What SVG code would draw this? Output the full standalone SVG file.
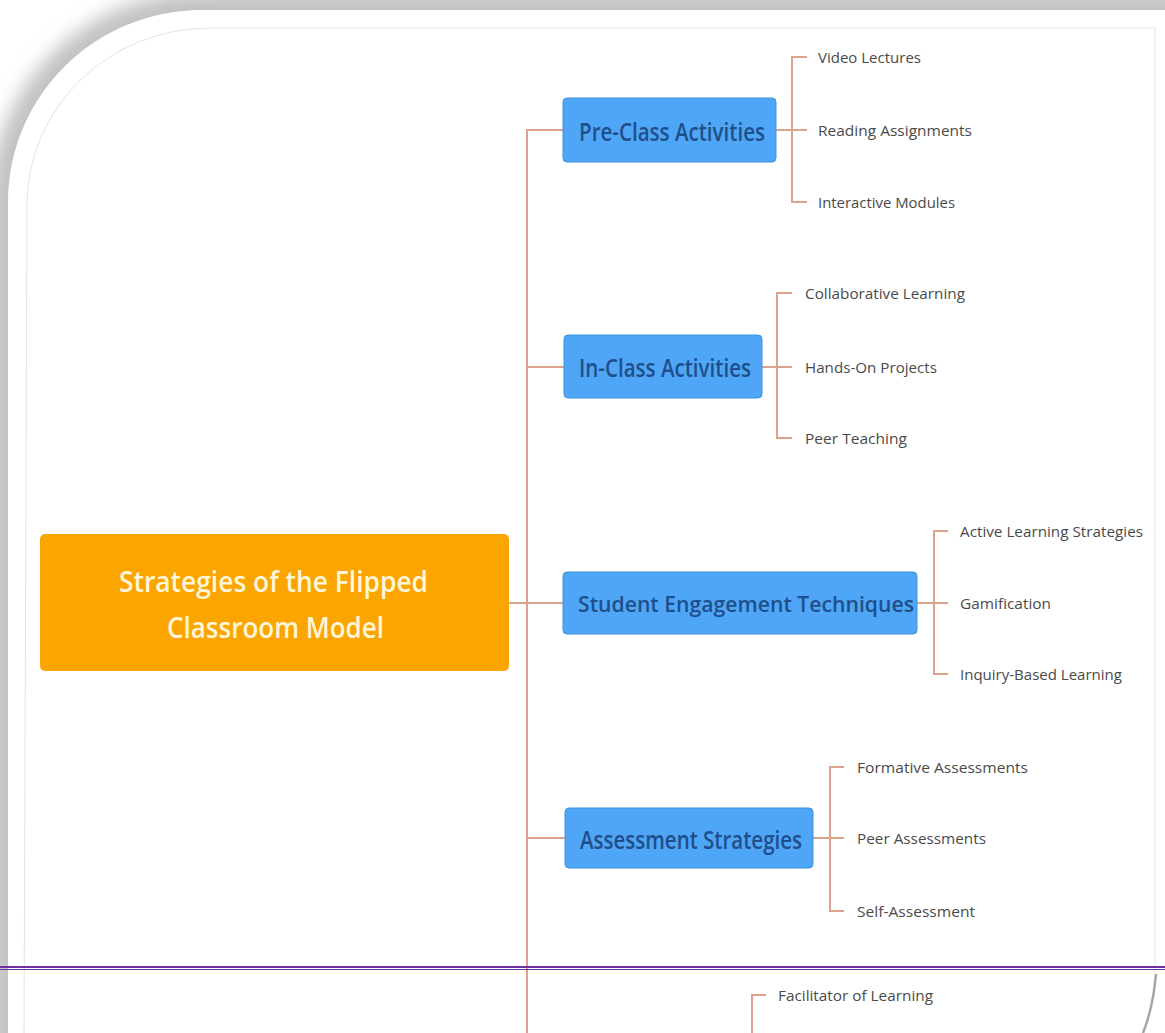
<svg xmlns="http://www.w3.org/2000/svg" width="1165" height="1033" viewBox="0 0 1165 1033">
  <defs>
    <filter id="edgeShade" filterUnits="userSpaceOnUse" x="-60" y="-60" width="1300" height="1160">
      <feGaussianBlur stdDeviation="9"/>
    </filter>
  </defs>
  <style>
    .conn{fill:none;stroke:#dca28c;stroke-width:2}
    .root rect{fill:#fba600}
    .root text{fill:#fff5d8;font-family:"Open Sans",Lato,"Liberation Sans",sans-serif;font-size:29px;font-weight:600}
    .branch rect{fill:#4fa6f6;stroke:#3f92df;stroke-width:1}
    .branch text{fill:#1f4f8a;font-family:"Open Sans",Lato,"Liberation Sans",sans-serif;font-size:25px;font-weight:600}
    .branch text.long{font-size:22px}
    .leaf text{fill:#4a4a4a;font-family:"Open Sans",Lato,"Liberation Sans",sans-serif;font-size:14px}
  </style>

  <!-- page background with shaded rounded frame -->
  <rect width="1165" height="1033" fill="#ffffff"/>
  <path d="M8,1060 V202 A194,192 0 0 1 202,10 H1200" fill="none" stroke="#c2c2c2" stroke-width="36" filter="url(#edgeShade)"/>
  <path d="M8,1040 V202 A194,192 0 0 1 202,10 H1170 V1040 Z" fill="#ffffff"/>
  <path d="M24,1033 L27,205 A183,177 0 0 1 210,28 H1155 V972" fill="none" stroke="#e4e4e4" stroke-width="1"/>

  <!-- connectors -->
  <g id="connectors">
    <path class="conn" d="M509,603 H527"/>
    <path class="conn" d="M563,130 H527 V1033"/>
    <path class="conn" d="M527,367 H564"/>
    <path class="conn" d="M527,603 H563"/>
    <path class="conn" d="M527,838 H565"/>
    <path class="conn" d="M776,130 H807"/>
    <path class="conn" d="M807,57 H792 V202 H807"/>
    <path class="conn" d="M762,367 H792"/>
    <path class="conn" d="M792,293 H777 V438 H792"/>
    <path class="conn" d="M917,603 H948"/>
    <path class="conn" d="M948,531 H934 V674 H948"/>
    <path class="conn" d="M813,838 H844"/>
    <path class="conn" d="M844,767 H830 V911 H844"/>
    <path class="conn" d="M766,995 H752 V1033"/>
  </g>

  <!-- central topic -->
  <g id="root" class="root">
    <rect x="40" y="534" width="469" height="137" rx="5"/>
    <text x="119" y="592" textLength="309" lengthAdjust="spacingAndGlyphs">Strategies of the Flipped</text>
    <text x="167" y="638" textLength="217" lengthAdjust="spacingAndGlyphs">Classroom Model</text>
  </g>

  <!-- main branches -->
  <g id="pre-class" class="branch">
    <rect x="563" y="98" width="213" height="64" rx="4"/>
    <text x="579" y="141" textLength="186" lengthAdjust="spacingAndGlyphs">Pre-Class Activities</text>
  </g>
  <g id="in-class" class="branch">
    <rect x="564" y="335" width="198" height="63" rx="4"/>
    <text x="579" y="377" textLength="172" lengthAdjust="spacingAndGlyphs">In-Class Activities</text>
  </g>
  <g id="engagement" class="branch">
    <rect x="563" y="572" width="354" height="62" rx="4"/>
    <text class="long" x="578" y="612" textLength="336" lengthAdjust="spacingAndGlyphs">Student Engagement Techniques</text>
  </g>
  <g id="assessment" class="branch">
    <rect x="565" y="808" width="248" height="60" rx="4"/>
    <text x="580" y="849" textLength="222" lengthAdjust="spacingAndGlyphs">Assessment Strategies</text>
  </g>

  <!-- sub-topics -->
  <g id="video-lectures" class="leaf"><text x="818" y="63" textLength="103" lengthAdjust="spacingAndGlyphs">Video Lectures</text></g>
  <g id="reading-assignments" class="leaf"><text x="818" y="136" textLength="154" lengthAdjust="spacingAndGlyphs">Reading Assignments</text></g>
  <g id="interactive-modules" class="leaf"><text x="818" y="208" textLength="137" lengthAdjust="spacingAndGlyphs">Interactive Modules</text></g>
  <g id="collaborative-learning" class="leaf"><text x="805" y="299" textLength="160" lengthAdjust="spacingAndGlyphs">Collaborative Learning</text></g>
  <g id="hands-on-projects" class="leaf"><text x="805" y="373" textLength="132" lengthAdjust="spacingAndGlyphs">Hands-On Projects</text></g>
  <g id="peer-teaching" class="leaf"><text x="805" y="444" textLength="102" lengthAdjust="spacingAndGlyphs">Peer Teaching</text></g>
  <g id="active-learning" class="leaf"><text x="960" y="537" textLength="183" lengthAdjust="spacingAndGlyphs">Active Learning Strategies</text></g>
  <g id="gamification" class="leaf"><text x="960" y="609" textLength="91" lengthAdjust="spacingAndGlyphs">Gamification</text></g>
  <g id="inquiry-based" class="leaf"><text x="960" y="680" textLength="162" lengthAdjust="spacingAndGlyphs">Inquiry-Based Learning</text></g>
  <g id="formative-assessments" class="leaf"><text x="857" y="773" textLength="171" lengthAdjust="spacingAndGlyphs">Formative Assessments</text></g>
  <g id="peer-assessments" class="leaf"><text x="857" y="844" textLength="129" lengthAdjust="spacingAndGlyphs">Peer Assessments</text></g>
  <g id="self-assessment" class="leaf"><text x="857" y="917" textLength="118" lengthAdjust="spacingAndGlyphs">Self-Assessment</text></g>
  <g id="facilitator" class="leaf"><text x="778" y="1001" textLength="155" lengthAdjust="spacingAndGlyphs">Facilitator of Learning</text></g>

  <!-- double rule across the page -->
  <rect x="0" y="966" width="1165" height="2" fill="#7030a0"/>
  <rect x="0" y="969" width="1165" height="1" fill="#7030a0"/>

  <!-- lower right frame edge -->
  <path d="M1156,974 Q1153,1008 1143,1033" fill="none" stroke="#a6a6a6" stroke-width="2.5"/>
</svg>
